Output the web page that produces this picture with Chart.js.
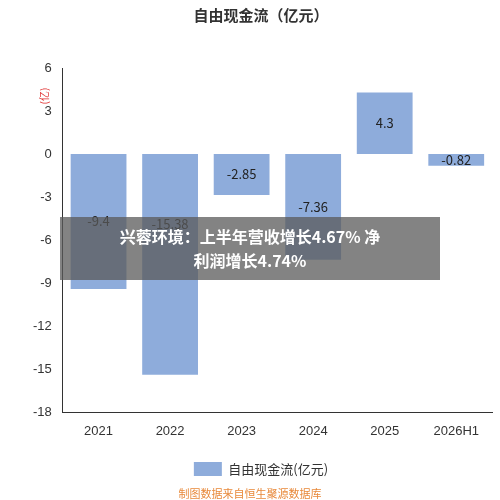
<!DOCTYPE html>
<html><head><meta charset="utf-8">
<script src="https://cdn.jsdelivr.net/npm/chart.js@4/dist/chart.umd.min.js"></script>
<style>
body{margin:0;width:500px;height:500px;background:#fff;font-family:"Noto Sans CJK SC",sans-serif;position:relative;overflow:hidden}
#wrap{position:absolute;left:0;top:0;width:500px;height:500px}
#banner{position:absolute;left:60px;top:217px;width:380px;height:63px;background:rgba(90,90,90,0.75);color:#fff;font-weight:bold;font-size:16px;text-align:center;line-height:24px;padding-top:7px;box-sizing:border-box}
#src{position:absolute;left:0;width:500px;top:485px;text-align:center;color:#e8893a;font-size:11px}
</style></head><body>
<div id="wrap"><canvas id="c" width="500" height="500"></canvas></div>
<div id="banner">兴蓉环境：上半年营收增长4.67% 净<br>利润增长4.74%</div>
<div id="src">制图数据来自恒生聚源数据库</div>
<script>
const categories = ["2021", "2022", "2023", "2024", "2025", "2026H1"];
const values = [-9.4, -15.38, -2.85, -7.36, 4.3, -0.82];
const labels = ["-9.4", "-15.38", "-2.85", "-7.36", "4.3", "-0.82"];
const yTicks = [6, 3, 0, -3, -6, -9, -12, -15, -18];

const barLabels = {
  id: 'bl',
  afterDatasetsDraw: function (ch) {
    const ctx = ch.ctx;
    const m = ch.getDatasetMeta(0);
    ctx.save();
    ctx.font = '13px "Noto Sans CJK SC"';
    ctx.fillStyle = '#222';
    ctx.textAlign = 'center';
    ctx.textBaseline = 'middle';
    m.data.forEach(function (b, i) {
      let y = (b.y + b.base) / 2;
      if (y > b.base + 70) { y = b.base + 70; }
      ctx.fillText(labels[i], b.x, y);
    });
    ctx.restore();
  }
};
const yLab = {
  id: 'yl',
  afterDraw: function (ch) {
    const ctx = ch.ctx;
    ctx.save();
    ctx.translate(44, 96);
    ctx.rotate(-Math.PI / 2);
    ctx.fillStyle = '#e03030';
    ctx.font = '10px "Noto Sans CJK SC"';
    ctx.textAlign = 'center';
    ctx.fillText('(亿)', 0, 0);
    ctx.restore();
  }
};
new Chart(document.getElementById('c'), {
  type: 'bar',
  data: { labels: categories, datasets: [{ label: '自由现金流(亿元)', data: values, backgroundColor: '#8eacdb', barPercentage: 0.78, categoryPercentage: 1 }] },
  options: {
    responsive: false, animation: false,
    layout: { padding: { left: 30, right: 8, top: 0, bottom: 14 } },
    plugins: {
      title: { display: true, text: '自由现金流（亿元）', color: '#333', font: { size: 15, weight: 'bold', family: 'Noto Sans CJK SC' }, padding: { top: 6, bottom: 44 } },
      legend: { position: 'bottom', labels: { boxWidth: 28, boxHeight: 14, color: '#333', font: { size: 13, family: 'Noto Sans CJK SC' }, padding: 20 } },
      tooltip: { enabled: false }
    },
    scales: {
      x: { grid: { display: false }, border: { color: '#333' }, ticks: { color: '#333', font: { size: 13 } } },
      y: {
        min: -18, max: 6,
        afterBuildTicks: function (a) { a.ticks = yTicks.map(function (v) { return { value: v }; }); },
        grid: { display: false }, border: { color: '#333' }, ticks: { color: '#333', font: { size: 13 } }
      }
    }
  },
  plugins: [barLabels, yLab]
});
</script></body></html>
